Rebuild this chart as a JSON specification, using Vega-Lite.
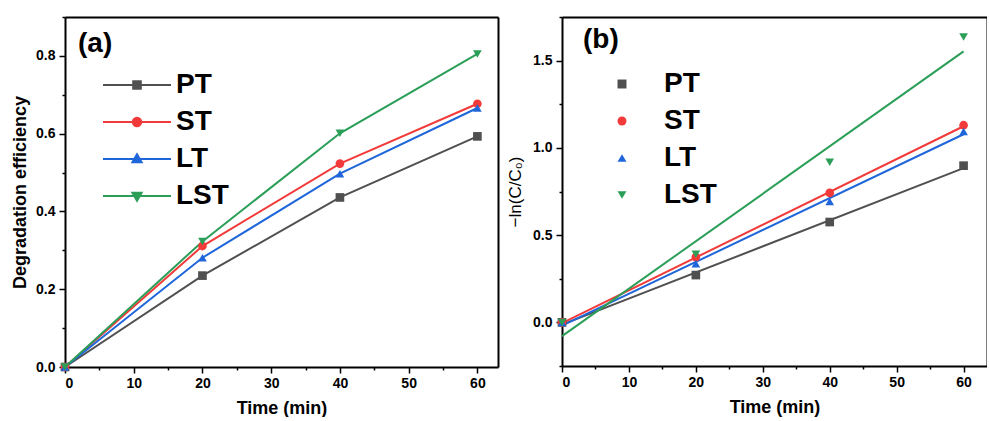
{
  "$schema": "https://vega.github.io/schema/vega-lite/v6.json",
  "background": "white",
  "padding": {"left": 11, "top": 16, "right": 0, "bottom": 0},
  "spacing": 8,
  "resolve": {
    "scale": {"color": "independent", "shape": "independent", "fill": "independent", "stroke": "independent"},
    "legend": {"color": "independent", "shape": "independent", "fill": "independent", "stroke": "independent"}
  },
  "config": {
    "font": "Liberation Sans",
    "view": {"stroke": null},
    "axis": {
      "grid": false,
      "domainColor": "black",
      "domainWidth": 2,
      "tickColor": "black",
      "tickWidth": 1.5,
      "labelFont": "Liberation Sans",
      "labelFontWeight": "bold",
      "labelFontSize": 14,
      "labelColor": "black",
      "titleFont": "Liberation Sans",
      "titleFontWeight": "bold",
      "titleFontSize": 18,
      "titleColor": "black"
    },
    "title": {"font": "Liberation Sans", "fontWeight": "bold", "fontSize": 28, "color": "black"}
  },
  "datasets": {
    "deg": [
      {"time": 0, "series": "PT", "eff": 0},
      {"time": 20, "series": "PT", "eff": 0.235},
      {"time": 40, "series": "PT", "eff": 0.436},
      {"time": 60, "series": "PT", "eff": 0.593},
      {"time": 0, "series": "ST", "eff": 0},
      {"time": 20, "series": "ST", "eff": 0.311},
      {"time": 40, "series": "ST", "eff": 0.523},
      {"time": 60, "series": "ST", "eff": 0.677},
      {"time": 0, "series": "LT", "eff": 0},
      {"time": 20, "series": "LT", "eff": 0.281},
      {"time": 40, "series": "LT", "eff": 0.497},
      {"time": 60, "series": "LT", "eff": 0.666},
      {"time": 0, "series": "LST", "eff": 0},
      {"time": 20, "series": "LST", "eff": 0.323},
      {"time": 40, "series": "LST", "eff": 0.601},
      {"time": 60, "series": "LST", "eff": 0.805}
    ],
    "kin": [
      {"time": 0, "series": "PT", "v": 0},
      {"time": 20, "series": "PT", "v": 0.271},
      {"time": 40, "series": "PT", "v": 0.575},
      {"time": 60, "series": "PT", "v": 0.898},
      {"time": 0, "series": "ST", "v": 0},
      {"time": 20, "series": "ST", "v": 0.374},
      {"time": 40, "series": "ST", "v": 0.742},
      {"time": 60, "series": "ST", "v": 1.13},
      {"time": 0, "series": "LT", "v": 0},
      {"time": 20, "series": "LT", "v": 0.336},
      {"time": 40, "series": "LT", "v": 0.692},
      {"time": 60, "series": "LT", "v": 1.094},
      {"time": 0, "series": "LST", "v": 0},
      {"time": 20, "series": "LST", "v": 0.391},
      {"time": 40, "series": "LST", "v": 0.917},
      {"time": 60, "series": "LST", "v": 1.635}
    ],
    "fit": [
      {"time": 0, "series": "PT", "v": -0.013},
      {"time": 60, "series": "PT", "v": 0.884},
      {"time": 0, "series": "ST", "v": -0.004},
      {"time": 60, "series": "ST", "v": 1.124},
      {"time": 0, "series": "LT", "v": -0.019},
      {"time": 60, "series": "LT", "v": 1.078},
      {"time": 0, "series": "LST", "v": -0.079},
      {"time": 60, "series": "LST", "v": 1.553}
    ]
  },
  "hconcat": [
    {
      "width": 433,
      "height": 350,
      "title": {"text": "(a)", "anchor": "start", "frame": "group", "orient": "top", "baseline": "alphabetic", "offset": -64, "dx": 13},
      "resolve": {
        "scale": {"shape": "independent", "fill": "independent", "stroke": "independent"},
        "axis": {"x": "independent", "y": "independent"}
      },
      "layer": [
        {
          "data": {"name": "deg"},
          "mark": {"type": "line", "strokeWidth": 2},
          "encoding": {
            "x": {
              "field": "time", "type": "quantitative", "title": "Time (min)",
              "scale": {"domain": [0, 63], "nice": false, "zero": false},
              "axis": {
                "values": [0, 5, 10, 15, 20, 25, 30, 35, 40, 45, 50, 55, 60],
                "labelExpr": "datum.value % 10 === 0 ? datum.label : ''",
                "tickSize": {"condition": {"test": "datum.value % 10 === 0", "value": 6}, "value": 3},
                "labelPadding": 3,
                "titlePadding": 9
              }
            },
            "y": {
              "field": "eff", "type": "quantitative", "title": "Degradation efficiency",
              "scale": {"domain": [0, 0.9], "nice": false, "zero": false},
              "axis": {
                "values": [0, 0.1, 0.2, 0.3, 0.4, 0.5, 0.6, 0.7, 0.8, 0.9],
                "format": ".1f",
                "labelExpr": "round(datum.value * 10) % 2 === 0 ? datum.label : ''",
                "tickSize": {"condition": {"test": "round(datum.value * 10) % 2 === 0", "value": 6}, "value": 3},
                "labelPadding": 4,
                "titlePadding": 6
              }
            },
            "color": {"field": "series", "type": "nominal", "legend": null,
              "scale": {"domain": ["PT", "ST", "LT", "LST"], "range": ["#505050", "#f23a3a", "#1f66db", "#2b9e58"]}}
          }
        },
        {
          "data": {"name": "deg"},
          "mark": {"type": "point", "filled": true, "opacity": 1, "size": 75},
          "encoding": {
            "x": {"field": "time", "type": "quantitative", "axis": null},
            "y": {"field": "eff", "type": "quantitative", "axis": null},
            "color": {"field": "series", "type": "nominal", "legend": null},
            "shape": {"field": "series", "type": "nominal", "legend": null,
              "scale": {"domain": ["PT", "ST", "LT", "LST"], "range": ["square", "circle", "triangle-up", "triangle-down"]}}
          }
        },
        {
          "data": {"name": "deg"},
          "transform": [{"filter": "datum.time === 0"}],
          "mark": {"type": "point", "filled": true, "opacity": 0, "size": 400, "strokeWidth": 2},
          "encoding": {
            "x": {"field": "time", "type": "quantitative",
              "axis": {"orient": "top", "labels": false, "ticks": false, "title": null, "domainWidth": 2}},
            "y": {"field": "eff", "type": "quantitative",
              "axis": {"orient": "right", "labels": false, "ticks": false, "title": null, "domainWidth": 2}},
            "fill": {"field": "series", "type": "nominal",
              "scale": {"domain": ["PT", "ST", "LT", "LST"], "range": ["#505050", "#f23a3a", "#1f66db", "#2b9e58"]},
              "legend": {"orient": "none", "legendX": 58, "legendY": 54, "title": null, "padding": 0,
                "labelFont": "Liberation Sans", "labelFontWeight": "bold", "labelFontSize": 28, "labelColor": "black",
                "labelOffset": 25, "rowPadding": 9, "symbolSize": 400, "symbolStrokeWidth": 2, "symbolOpacity": 1}},
            "stroke": {"field": "series", "type": "nominal",
              "scale": {"domain": ["PT", "ST", "LT", "LST"], "range": ["#505050", "#f23a3a", "#1f66db", "#2b9e58"]},
              "legend": {"orient": "none", "legendX": 58, "legendY": 54, "title": null, "padding": 0,
                "labelFont": "Liberation Sans", "labelFontWeight": "bold", "labelFontSize": 28, "labelColor": "black",
                "labelOffset": 25, "rowPadding": 9, "symbolSize": 400, "symbolStrokeWidth": 2, "symbolOpacity": 1}},
            "shape": {"field": "series", "type": "nominal",
              "scale": {"domain": ["PT", "ST", "LT", "LST"], "range": [
                "M-3.4,0H3.4M-0.38,-0.38H0.38V0.38H-0.38Z",
                "M0.42,0A0.42,0.42,0,1,1,-0.42,0A0.42,0.42,0,1,1,0.42,0Z M-3.4,0H3.4",
                "M-3.4,0H3.4M0,-0.48L0.46,0.32L-0.46,0.32Z",
                "M-3.4,0H3.4M0,0.48L0.46,-0.32L-0.46,-0.32Z"]},
              "legend": {"orient": "none", "legendX": 58, "legendY": 54, "title": null, "padding": 0,
                "labelFont": "Liberation Sans", "labelFontWeight": "bold", "labelFontSize": 28, "labelColor": "black",
                "labelOffset": 25, "rowPadding": 9, "symbolSize": 400, "symbolStrokeWidth": 2, "symbolOpacity": 1}}
          }
        }
      ]
    },
    {
      "width": 425,
      "height": 349,
      "title": {"text": "(b)", "anchor": "start", "frame": "group", "orient": "top", "baseline": "alphabetic", "offset": -60, "dx": 21},
      "resolve": {
        "scale": {"shape": "independent", "fill": "independent"},
        "axis": {"x": "independent", "y": "independent"}
      },
      "layer": [
        {
          "data": {"name": "fit"},
          "mark": {"type": "line", "strokeWidth": 2},
          "encoding": {
            "x": {
              "field": "time", "type": "quantitative", "title": "Time (min)",
              "scale": {"domain": [0, 63.5], "nice": false, "zero": false},
              "axis": {
                "values": [0, 5, 10, 15, 20, 25, 30, 35, 40, 45, 50, 55, 60],
                "labelExpr": "datum.value % 10 === 0 ? datum.label : ''",
                "tickSize": {"condition": {"test": "datum.value % 10 === 0", "value": 6}, "value": 3},
                "labelPadding": 3,
                "titlePadding": 9
              }
            },
            "y": {
              "field": "v", "type": "quantitative", "title": "−ln(C/C₀)",
              "scale": {"domain": [-0.25, 1.75], "nice": false, "zero": false},
              "axis": {
                "values": [-0.25, 0, 0.25, 0.5, 0.75, 1, 1.25, 1.5, 1.75],
                "format": ".1f",
                "labelExpr": "round(datum.value * 4) % 2 === 0 ? datum.label : ''",
                "tickSize": {"condition": {"test": "round(datum.value * 4) % 2 === 0", "value": 6}, "value": 3},
                "labelPadding": 4,
                "titlePadding": 8,
                "titleFontWeight": "normal",
                "titleFontSize": 17
              }
            },
            "color": {"field": "series", "type": "nominal", "legend": null,
              "scale": {"domain": ["PT", "ST", "LT", "LST"], "range": ["#505050", "#f23a3a", "#1f66db", "#2b9e58"]}}
          }
        },
        {
          "data": {"name": "kin"},
          "mark": {"type": "point", "filled": true, "opacity": 1, "size": 75},
          "encoding": {
            "x": {"field": "time", "type": "quantitative", "axis": null},
            "y": {"field": "v", "type": "quantitative", "axis": null},
            "color": {"field": "series", "type": "nominal", "legend": null},
            "shape": {"field": "series", "type": "nominal", "legend": null,
              "scale": {"domain": ["PT", "ST", "LT", "LST"], "range": ["square", "circle", "triangle-up", "triangle-down"]}}
          }
        },
        {
          "data": {"name": "kin"},
          "transform": [{"filter": "datum.time === 0"}],
          "mark": {"type": "point", "filled": true, "opacity": 0, "size": 64},
          "encoding": {
            "x": {"field": "time", "type": "quantitative",
              "axis": {"orient": "top", "labels": false, "ticks": false, "title": null, "domainWidth": 2}},
            "y": {"field": "v", "type": "quantitative",
              "axis": {"orient": "right", "labels": false, "ticks": false, "title": null, "domainWidth": 2}},
            "fill": {"field": "series", "type": "nominal",
              "scale": {"domain": ["PT", "ST", "LT", "LST"], "range": ["#505050", "#f23a3a", "#1f66db", "#2b9e58"]},
              "legend": {"orient": "none", "legendX": 46, "legendY": 53, "title": null, "padding": 0,
                "labelFont": "Liberation Sans", "labelFontWeight": "bold", "labelFontSize": 28, "labelColor": "black",
                "labelOffset": 28, "rowPadding": 9, "symbolSize": 80, "symbolOpacity": 1}},
            "shape": {"field": "series", "type": "nominal",
              "scale": {"domain": ["PT", "ST", "LT", "LST"], "range": ["square", "circle", "triangle-up", "triangle-down"]},
              "legend": {"orient": "none", "legendX": 46, "legendY": 53, "title": null, "padding": 0,
                "labelFont": "Liberation Sans", "labelFontWeight": "bold", "labelFontSize": 28, "labelColor": "black",
                "labelOffset": 28, "rowPadding": 9, "symbolSize": 80, "symbolOpacity": 1}}
          }
        }
      ]
    }
  ]
}
